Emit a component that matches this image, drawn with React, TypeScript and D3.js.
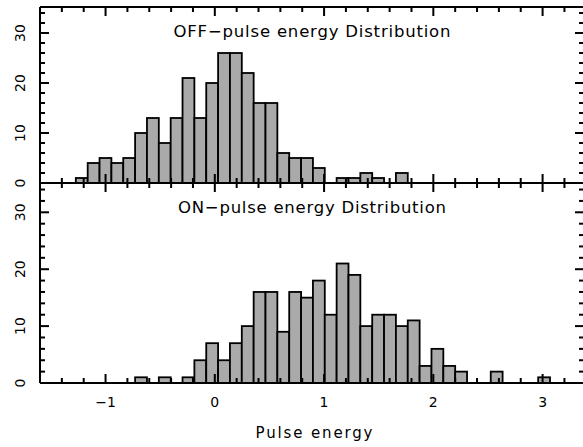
import React from "react";
import * as d3 from "d3";

// ---- data ----
const BIN_WIDTH = 0.1085;
const OFF_BIN_START = -1.272;
const ON_BIN_START = -0.7295;
const OFF_COUNTS = [1, 4, 5, 4, 5, 10, 13, 8, 13, 21, 13, 20, 26, 26, 22, 16, 16, 6, 5, 5, 3, 0, 1, 1, 2, 1, 0, 2];
const ON_COUNTS = [1, 0, 1, 0, 1, 4, 7, 4, 7, 10, 16, 16, 9, 16, 15, 18, 12, 21, 19, 10, 12, 12, 10, 11, 3, 6, 3, 2, 0, 0, 2, 0, 0, 0, 1];
const X_TICK_LABELS = [-1, 0, 1, 2, 3];
const Y_TICK_LABELS = [0, 10, 20, 30];
const OFF_TITLE = "OFF\u2212pulse energy Distribution";
const ON_TITLE = "ON\u2212pulse energy Distribution";
const X_TITLE = "Pulse energy";

const W = 583;
const H = 447;
const LEFT = 40;
const RIGHT = 584;
const FONT = "'DejaVu Sans', 'Liberation Sans', Arial, sans-serif";

const x = d3.scaleLinear().domain([-1.6, 3.379]).range([LEFT, RIGHT]);
const yTop = d3.scaleLinear().domain([0, 35.2]).range([183, 7]);
const yBot = d3.scaleLinear().domain([0, 35.15]).range([383, 183]);

const minorX = d3.range(-16, 34).map((v) => v / 10).filter((v) => Math.round(v * 10) % 2 === 0);
const minorY = d3.range(0, 36, 2);

function Bars({ counts, start, y }: { counts: number[]; start: number; y: d3.ScaleLinear<number, number> }) {
  return (
    <g>
      {counts.map((c, i) => {
        if (c <= 0) return null;
        const x0 = x(start + i * BIN_WIDTH);
        const x1 = x(start + (i + 1) * BIN_WIDTH);
        return (
          <rect key={i} x={x0} y={y(c)} width={x1 - x0} height={y(0) - y(c)} fill="#aaaaaa" stroke="#000" strokeWidth={1.8} />
        );
      })}
    </g>
  );
}

function Panel({ y, title, titleY, titleLen, showXLabels }: { y: d3.ScaleLinear<number, number>; title: string; titleY: number; titleLen: number; showXLabels: boolean }) {
  const [yb, yt] = y.range();
  const ticks: React.ReactNode[] = [];
  // x ticks (bottom pointing up, top pointing down)
  minorX.forEach((v, i) => {
    const major = Math.abs(v - Math.round(v)) < 1e-6;
    const len = major ? 9 : 5;
    const px = x(v);
    if (px <= LEFT + 0.5 || px >= RIGHT - 0.5) return;
    ticks.push(<line key={"xb" + i} x1={px} x2={px} y1={yb} y2={yb - len} stroke="#000" strokeWidth={2} />);
    ticks.push(<line key={"xt" + i} x1={px} x2={px} y1={yt} y2={yt + len} stroke="#000" strokeWidth={2} />);
  });
  minorY.forEach((v, i) => {
    const major = v % 10 === 0;
    const len = major ? 9 : 5;
    const py = y(v);
    if (py < yt + 0.5 || py > yb - 0.5) return;
    ticks.push(<line key={"yl" + i} x1={LEFT} x2={LEFT + len} y1={py} y2={py} stroke="#000" strokeWidth={2} />);
    ticks.push(<line key={"yr" + i} x1={RIGHT} x2={RIGHT - len} y1={py} y2={py} stroke="#000" strokeWidth={2} />);
  });
  return (
    <g>
      {ticks}
      {Y_TICK_LABELS.map((v) => (
        <text key={v} transform={`translate(25,${y(v)}) rotate(-90)`} textAnchor="middle" fontSize={14} fontFamily={FONT} fill="#000">
          {v}
        </text>
      ))}
      <text x={312} y={titleY} textAnchor="middle" fontSize={16.5} fontFamily={FONT} textLength={titleLen} lengthAdjust="spacing" fill="#000">
        {title}
      </text>
      {showXLabels &&
        X_TICK_LABELS.map((v) => (
          <text key={v} x={x(v)} y={406.5} textAnchor="middle" fontSize={14} fontFamily={FONT} fill="#000">
            {d3.format("")(v)}
          </text>
        ))}
    </g>
  );
}

export default function App() {
  return (
    <svg width={W} height={H} style={{ position: "absolute", left: 0, top: 0, background: "#fff" }}>
      <rect x={0} y={0} width={W} height={H} fill="#fff" />
      <Bars counts={OFF_COUNTS} start={OFF_BIN_START} y={yTop} />
      <Bars counts={ON_COUNTS} start={ON_BIN_START} y={yBot} />
      {/* frame */}
      <line x1={LEFT} x2={RIGHT} y1={yTop(0)} y2={yTop(0)} stroke="#000" strokeWidth={2} />
      <line x1={LEFT} x2={RIGHT} y1={yTop.range()[1]} y2={yTop.range()[1]} stroke="#000" strokeWidth={2} />
      <line x1={LEFT} x2={RIGHT} y1={yBot(0)} y2={yBot(0)} stroke="#000" strokeWidth={2} />
      <line x1={LEFT} x2={LEFT} y1={yTop.range()[1]} y2={yBot(0)} stroke="#000" strokeWidth={2} />
      <line x1={RIGHT} x2={RIGHT} y1={yTop.range()[1]} y2={yBot(0)} stroke="#000" strokeWidth={2} />
      <Panel y={yTop} title={OFF_TITLE} titleY={37} titleLen={277} showXLabels={false} />
      <Panel y={yBot} title={ON_TITLE} titleY={212.5} titleLen={268} showXLabels={true} />
      <text x={314} y={438} textAnchor="middle" fontSize={15} fontFamily={FONT} textLength={117} lengthAdjust="spacing" fill="#000">
        {X_TITLE}
      </text>
    </svg>
  );
}
